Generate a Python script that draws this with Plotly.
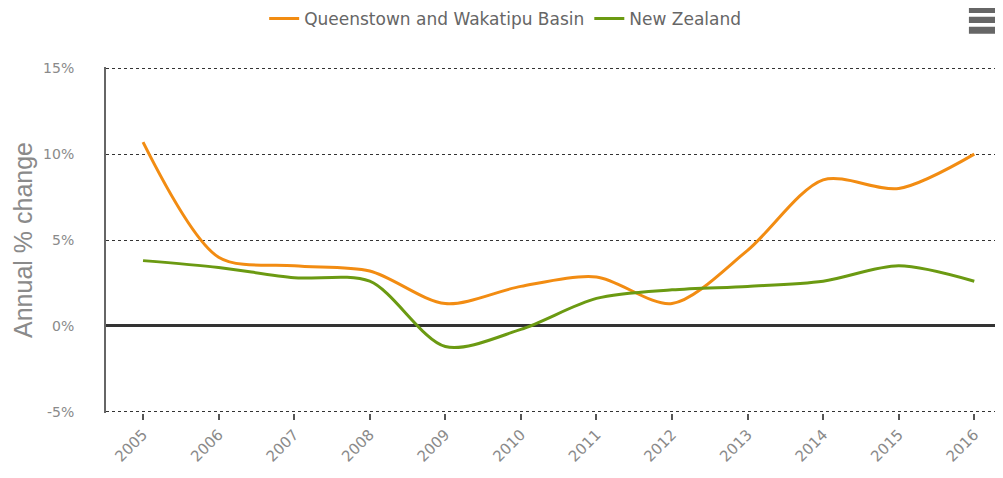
import plotly.graph_objects as go

years = [2005, 2006, 2007, 2008, 2009, 2010, 2011, 2012, 2013, 2014, 2015, 2016]
queenstown = [10.7, 4.0, 3.5, 3.2, 1.3, 2.3, 2.85, 1.3, 4.4, 8.5, 8.0, 10.0]
new_zealand = [3.8, 3.4, 2.8, 2.6, -1.2, -0.2, 1.6, 2.1, 2.3, 2.6, 3.5, 2.6]
y_ticks = [-5, 0, 5, 10, 15]
y_tick_labels = ["-5%", "0%", "5%", "10%", "15%"]

ORANGE = "#F28C12"
GREEN = "#6B9A12"
FONT = "DejaVu Sans"

fig = go.Figure()
fig.add_trace(go.Scatter(x=years, y=queenstown, mode="lines", name="Queenstown and Wakatipu Basin",
                         line=dict(color=ORANGE, width=3, shape="spline", smoothing=0.85)))
fig.add_trace(go.Scatter(x=years, y=new_zealand, mode="lines", name="New Zealand",
                         line=dict(color=GREEN, width=3, shape="spline", smoothing=0.85)))

# page body has an 8px margin, so the figure is 995x470 placed at (8, 8)
fig.update_layout(
    width=995, height=470,
    margin=dict(l=98, r=0, t=59, b=65, autoexpand=False),
    paper_bgcolor="white", plot_bgcolor="white",
    font=dict(family=FONT, size=14, color="#777777"),
    showlegend=True,
    legend=dict(orientation="h", x=0.445, xanchor="center", y=1.139, yanchor="middle",
                font=dict(family=FONT, size=17, color="#666666"), bgcolor="rgba(0,0,0,0)"),
    xaxis=dict(range=[2004.51, 2016.38], tickmode="array", tickvals=years,
               ticktext=[str(y) for y in years], tickangle=-45, automargin=False,
               showgrid=False, zeroline=False, showline=False,
               ticks="outside", ticklen=6, tickwidth=2, tickcolor="#555555",
               tickfont=dict(family=FONT, size=15, color="#8a8a8a")),
    yaxis=dict(range=[-5.07, 15.07], tickmode="array", tickvals=y_ticks, ticktext=y_tick_labels,
               automargin=False,
               showgrid=True, gridcolor="#333333", griddash="dot", gridwidth=1,
               zeroline=True, zerolinecolor="#333333", zerolinewidth=3,
               showline=True, linecolor="#666666", linewidth=2,
               ticks="", ticklabelstandoff=27,
               tickfont=dict(family=FONT, size=14, color="#8a8a8a"),
               title=dict(text="Annual % change", standoff=3,
                          font=dict(family="Liberation Sans", size=25, color="#8a8a8a"))),
)

# menu icon (three bars) in top right
for top, bot in [(1.176, 1.156), (1.145, 1.127), (1.116, 1.096)]:
    fig.add_shape(type="rect", xref="paper", yref="paper", x0=0.962, x1=1.0, y0=bot, y1=top,
                  fillcolor="#666666", line=dict(width=0))

fig.write_html("out.html")
